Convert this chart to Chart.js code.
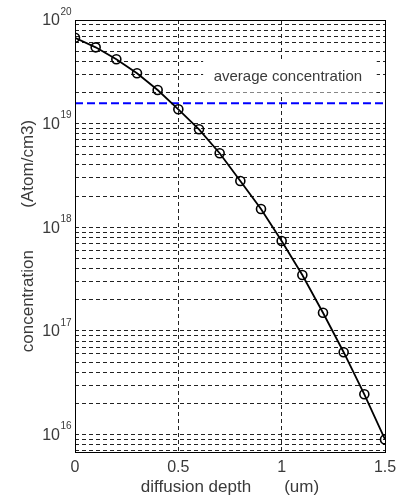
<!DOCTYPE html>
<html>
<head>
<meta charset="utf-8">
<script src="https://cdn.jsdelivr.net/npm/chart.js@4.4.1/dist/chart.umd.min.js"></script>
<style>
html, body { margin: 0; padding: 0; background: #fff; }
</style>
</head>
<body>
<canvas id="chart" width="396" height="502"></canvas>
<script>
// values
const depth = [0, 0.1, 0.2, 0.3, 0.4, 0.5, 0.6, 0.7, 0.8, 0.9, 1.0, 1.1, 1.2, 1.3, 1.4, 1.5];
const concentration = [6.75e19, 5.45e19, 4.18e19, 3.06e19, 2.11e19, 1.375e19, 8.82e18, 5.18e18,
                       2.80e18, 1.50e18, 7.38e17, 3.47e17, 1.50e17, 6.24e16, 2.45e16, 9.0e15];
const avgConcentration = 1.57e19;
const avgLabel = 'average concentration';

const xTicks = [0, 0.5, 1, 1.5];
const xTickLabels = ['0', '0.5', '1', '1.5'];
const yExponents = [16, 17, 18, 19, 20];
const yMinorSteps = [2, 3, 4, 5, 6, 7, 8, 9];
const yMin = 6.8e15;
const yMax = 1e20;

const textColor = '#3a3a3a';
const fontFamily = '"Liberation Sans", Arial, sans-serif';

// gridline values: every decade plus 2..9 inside it
function buildYGrid() {
    const vals = [];
    for (let e = yExponents[0] - 1; e <= yExponents[yExponents.length - 1]; e++) {
        const base = Math.pow(10, e);
        if (base >= yMin && base <= yMax) vals.push(base);
        for (const m of yMinorSteps) {
            const v = m * base;
            if (v >= yMin && v <= yMax) vals.push(v);
        }
    }
    return vals.sort((a, b) => a - b);
}

const framePlugin = {
    id: 'frame',
    beforeDatasetsDraw(chart) {
        // white box behind the "average concentration" note
        const ctx = chart.ctx;
        const xs = chart.scales.x, ys = chart.scales.y;
        const l = xs.getPixelForValue(0.62), r = xs.getPixelForValue(1.46);
        const t = ys.getPixelForValue(4.1e19), b = ys.getPixelForValue(2.0e19);
        ctx.save();
        ctx.fillStyle = '#fff';
        ctx.fillRect(l, t, r - l, b - t);
        ctx.fillStyle = textColor;
        ctx.font = '15px ' + fontFamily;
        ctx.textAlign = 'center';
        ctx.textBaseline = 'middle';
        ctx.fillText(avgLabel, xs.getPixelForValue(1.03), ys.getPixelForValue(2.85e19));
        ctx.restore();
    },
    afterDraw(chart) {
        const ctx = chart.ctx;
        const a = chart.chartArea;
        const ys = chart.scales.y;
        ctx.save();
        // axes box
        ctx.strokeStyle = '#000';
        ctx.lineWidth = 1;
        ctx.strokeRect(Math.round(a.left) + 0.5, Math.round(a.top) + 0.5,
                       Math.round(a.right - a.left), Math.round(a.bottom - a.top));
        // 10^n tick labels
        ctx.fillStyle = textColor;
        for (const e of yExponents) {
            const y = ys.getPixelForValue(Math.pow(10, e));
            ctx.font = '16px ' + fontFamily;
            ctx.textAlign = 'right';
            ctx.textBaseline = 'middle';
            ctx.fillText('10', a.left - 15, y + 1);
            ctx.font = '10px ' + fontFamily;
            ctx.textAlign = 'left';
            ctx.fillText(String(e), a.left - 14.5, y - 8);
        }
        ctx.restore();
    }
};

new Chart(document.getElementById('chart'), {
    type: 'line',
    data: {
        datasets: [{
            data: depth.map((d, i) => ({x: d, y: concentration[i]})),
            borderColor: '#000',
            borderWidth: 1.8,
            pointRadius: 4.5,
            pointStyle: 'circle',
            pointBorderColor: '#000',
            pointBackgroundColor: 'rgba(0,0,0,0)',
            pointBorderWidth: 1.6,
            tension: 0
        }, {
            data: [{x: xTicks[0], y: avgConcentration}, {x: xTicks[xTicks.length - 1], y: avgConcentration}],
            borderColor: '#0000ff',
            borderWidth: 2,
            borderDash: [8, 4],
            pointRadius: 0
        }]
    },
    options: {
        responsive: false,
        animation: false,
        layout: { padding: { top: 20, right: 11, left: 0, bottom: 0 } },
        plugins: { legend: { display: false }, tooltip: { enabled: false } },
        scales: {
            x: {
                type: 'linear',
                min: 0,
                max: 1.5,
                afterBuildTicks: scale => { scale.ticks = xTicks.map(v => ({value: v})); },
                afterFit: scale => {
                    scale.height = 50;
                    scale.paddingLeft = 0;
                    scale.paddingRight = 0;
                },
                ticks: {
                    autoSkip: false,
                    maxRotation: 0,
                    padding: 6,
                    color: textColor,
                    font: { family: fontFamily, size: 16 },
                    callback: (v, i) => xTickLabels[i]
                },
                grid: { color: '#222', lineWidth: 1, drawTicks: false },
                border: { display: false, dash: [4, 3] },
                title: {
                    display: true,
                    text: 'diffusion depth       (um)',
                    color: textColor,
                    font: { family: fontFamily, size: 17 },
                    padding: { top: 0, bottom: 4 }
                }
            },
            y: {
                type: 'logarithmic',
                min: yMin,
                max: yMax,
                afterBuildTicks: scale => { scale.ticks = buildYGrid().map(v => ({value: v})); },
                afterFit: scale => { scale.width = 75; },
                ticks: { display: false },
                grid: { color: '#222', lineWidth: 1, drawTicks: false },
                border: { display: false, dash: [4, 3] },
                title: {
                    display: true,
                    text: 'concentration         (Atom/cm3)',
                    color: textColor,
                    font: { family: fontFamily, size: 17 },
                    padding: { top: 18, bottom: 0 }
                }
            }
        }
    },
    plugins: [framePlugin]
});
</script>
</body>
</html>
